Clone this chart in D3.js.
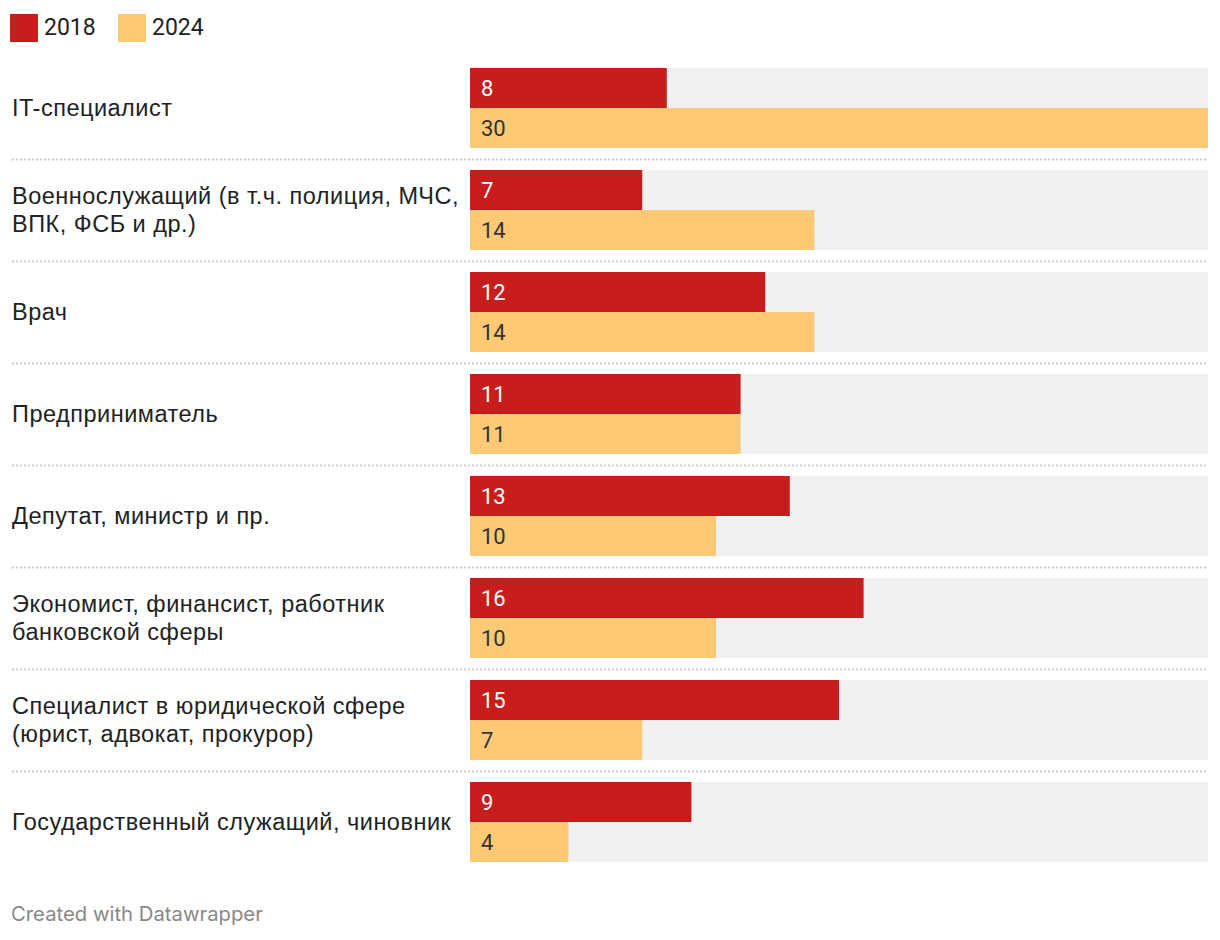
<!DOCTYPE html>
<html><head><meta charset="utf-8">
<script src="https://cdn.jsdelivr.net/npm/d3@7"></script>
<style>body{margin:0;background:#fff;font-family:Roboto,sans-serif;}</style>
</head><body>
<svg id="c" width="1220" height="940"></svg>
<script>
const categories = [
  ["IT-специалист"],
  ["Военнослужащий (в т.ч. полиция, МЧС,", "ВПК, ФСБ и др.)"],
  ["Врач"],
  ["Предприниматель"],
  ["Депутат, министр и пр."],
  ["Экономист, финансист, работник", "банковской сферы"],
  ["Специалист в юридической сфере", "(юрист, адвокат, прокурор)"],
  ["Государственный служащий, чиновник"]
];
const series = ["2018", "2024"];
const values2018 = [8, 7, 12, 11, 13, 16, 15, 9];
const values2024 = [30, 14, 14, 11, 10, 10, 7, 4];
const colors = ["#c71e1d", "#fdc975"];
const labelColors = ["#ffffff", "#333333"];
const footer = "Created with Datawrapper";

const svg = d3.select("#c");
const x = d3.scaleLinear().domain([0, 30]).range([470, 1208]);
const yg = d3.scaleBand().domain(d3.range(categories.length)).range([68, 68 + 102 * categories.length]).paddingInner(0).paddingOuter(0);
const yb = d3.scaleBand().domain(series).range([0, 80]);

// legend
const leg = svg.append("g");
series.forEach((s, i) => {
  const lx = 10 + i * 108;
  leg.append("rect").attr("x", lx).attr("y", 14).attr("width", 28).attr("height", 28).attr("fill", colors[i]);
  leg.append("text").attr("x", lx + 34).attr("y", 35).attr("font-size", 23).attr("fill", "#222").text(s);
});

const data = categories.map((c, i) => ({lines: c, vals: [values2018[i], values2024[i]]}));
const g = svg.selectAll("g.row").data(data).join("g").attr("class", "row")
  .attr("transform", (d, i) => `translate(0,${yg(i)})`);

g.append("rect").attr("x", x(0)).attr("y", 0).attr("width", x(30) - x(0)).attr("height", 80).attr("fill", "#f1f1f1");

g.each(function(d, i) {
  const gg = d3.select(this);
  series.forEach((s, k) => {
    gg.append("rect").attr("x", x(0)).attr("y", yb(s)).attr("width", x(d.vals[k]) - x(0))
      .attr("height", yb.bandwidth()).attr("fill", colors[k]);
    gg.append("text").attr("x", x(0) + 11).attr("y", yb(s) + yb.bandwidth() / 2 + 8)
      .attr("font-size", 22).attr("fill", labelColors[k]).text(d.vals[k]);
  });
  const n = d.lines.length;
  d.lines.forEach((l, j) => {
    gg.append("text").attr("x", 12).attr("y", 40 + 8 + (j - (n - 1) / 2) * 28)
      .attr("font-family", "'Liberation Sans', Arial, sans-serif")
      .attr("font-size", 23.5).attr("letter-spacing", 0.5).attr("fill", "#222").text(l);
  });
  if (i < categories.length - 1) {
    gg.append("line").attr("x1", 12).attr("x2", 1208).attr("y1", 91.5).attr("y2", 91.5)
      .attr("stroke", "#cccccc").attr("stroke-width", 2).attr("stroke-dasharray", "2,2");
  }
});

svg.append("text").attr("x", 11).attr("y", 921).attr("font-family", "Inter, Roboto, sans-serif")
  .attr("font-size", 20.3).attr("fill", "#888").text(footer);
</script>
</body></html>
